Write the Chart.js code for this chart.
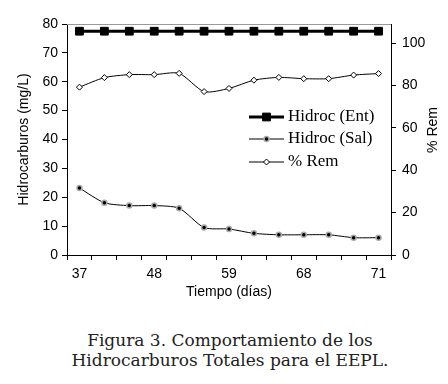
<!DOCTYPE html>
<html>
<head>
<meta charset="utf-8">
<script src="https://cdn.jsdelivr.net/npm/chart.js@4/dist/chart.umd.min.js"></script>
<style>
  body { margin: 0; background: #fff; }
  #wrap { position: relative; width: 448px; height: 305px; }
  #caption {
    font-family: 'DejaVu Serif', serif;
    font-size: 17px;
    line-height: 20px;
    color: #222;
    text-align: center;
    width: 448px;
    padding-left: 12px;
    box-sizing: border-box;
    margin-top: 25px;
  }
  #fontwarm { font-family: 'Liberation Serif'; position: absolute; left: -999px; }
</style>
</head>
<body>
<span id="fontwarm">Hidroc</span>
<div id="wrap"><canvas id="myChart"></canvas></div>
<div id="caption">Figura 3. Comportamiento de los<br>Hidrocarburos Totales para el EEPL.</div>
<script>
'use strict'
// datos
const dias = ['37', '', '', '48', '', '', '59', '', '', '68', '', '', '71']
const hidrocEnt = [77.5, 77.5, 77.5, 77.5, 77.5, 77.5, 77.5, 77.5, 77.5, 77.5, 77.5, 77.5, 77.5]
const hidrocSal = [23.2, 18.1, 17.1, 17.1, 16.2, 9.5, 9.0, 7.5, 7.0, 7.0, 7.0, 6.0, 6.0]
const remocion = [79.2, 83.7, 85.1, 85.1, 85.7, 77.1, 78.6, 82.5, 83.8, 83.2, 83.2, 84.9, 85.6]
const leftTicks = [0, 80, 10]
const rightTicks = [0, 100, 20]

const sans = 'Liberation Sans, Arial, sans-serif'

// leyenda dentro del area del grafico
const legendInside = {
  id: 'legendInside',
  afterDraw(chart) {
    const ctx = chart.ctx
    const x0 = 249
    const x1 = 284
    const rows = [117, 139, 162]
    ctx.save()
    chart.data.datasets.forEach((ds, i) => {
      const y = rows[i]
      ctx.strokeStyle = ds.borderColor
      ctx.lineWidth = ds.borderWidth
      ctx.beginPath()
      ctx.moveTo(x0, y)
      ctx.lineTo(x1, y)
      ctx.stroke()
      ctx.fillStyle = ds.pointBackgroundColor
      ctx.strokeStyle = ds.pointBorderColor
      ctx.lineWidth = ds.pointBorderWidth
      Chart.helpers.drawPoint(ctx, { pointStyle: ds.pointStyle, radius: ds.pointRadius, borderWidth: ds.pointBorderWidth }, (x0 + x1) / 2, y)
      ctx.fillStyle = '#000'
      ctx.font = '17px "Liberation Serif", "Times New Roman", serif'
      ctx.textBaseline = 'middle'
      ctx.textAlign = 'left'
      ctx.fillText(ds.label, x1 + 4, y)
    })
    // titulo del eje derecho
    ctx.translate(433, 130)
    ctx.rotate(-Math.PI / 2)
    ctx.font = '14px ' + sans
    ctx.textAlign = 'center'
    ctx.textBaseline = 'middle'
    ctx.fillText('% Rem', 0, 0)
    ctx.restore()
  },
  beforeDatasetsDraw(chart) {
    // linea gris superior del area
    const a = chart.chartArea
    const ctx = chart.ctx
    ctx.save()
    ctx.strokeStyle = '#999'
    ctx.lineWidth = 1
    ctx.beginPath()
    ctx.moveTo(a.left, a.top + 0.5)
    ctx.lineTo(a.right, a.top + 0.5)
    ctx.stroke()
    ctx.restore()
  }
}

const ctx = document.getElementById('myChart').getContext('2d')
const myChart = new Chart(ctx, {
  type: 'line',
  data: {
    labels: dias,
    datasets: [
      {
        label: 'Hidroc (Ent)',
        data: hidrocEnt,
        yAxisID: 'y',
        borderColor: '#000',
        borderWidth: 3,
        pointStyle: 'rect',
        pointRadius: 5.5,
        pointBackgroundColor: '#000',
        pointBorderColor: '#000',
        pointBorderWidth: 1,
        tension: 0,
      },
      {
        label: 'Hidroc (Sal)',
        data: hidrocSal,
        yAxisID: 'y',
        borderColor: '#000',
        borderWidth: 1,
        pointStyle: 'circle',
        pointRadius: 2.5,
        pointBackgroundColor: '#000',
        pointBorderColor: '#aaa',
        pointBorderWidth: 1.5,
        tension: 0.25,
      },
      {
        label: '% Rem',
        data: remocion,
        yAxisID: 'y2',
        borderColor: '#000',
        borderWidth: 1,
        pointStyle: 'rectRot',
        pointRadius: 3,
        pointBackgroundColor: '#fff',
        pointBorderColor: '#000',
        pointBorderWidth: 1,
        tension: 0.25,
      },
    ],
  },
  options: {
    responsive: true,
    maintainAspectRatio: false,
    animation: false,
    layout: { padding: { top: 24, left: 0, right: 0, bottom: 0 } },
    plugins: {
      legend: { display: false },
      tooltip: { enabled: false },
    },
    scales: {
      x: {
        type: 'category',
        offset: true,
        grid: { offset: true, drawOnChartArea: false, drawTicks: true, tickLength: 5, color: '#000' },
        border: { display: true, color: '#000', width: 1 },
        ticks: { autoSkip: false, maxRotation: 0, color: '#000', font: { family: sans, size: 14 }, padding: 6 },
        title: { display: true, text: 'Tiempo (días)', color: '#000', font: { family: sans, size: 14 }, padding: { top: 0, bottom: 4 } },
        afterFit(scale) { scale.height = 50 },
      },
      y: {
        position: 'left',
        min: leftTicks[0],
        max: leftTicks[1],
        grid: { drawOnChartArea: false, drawTicks: true, tickLength: 5, color: '#000' },
        border: { display: true, color: '#000', width: 1 },
        ticks: { stepSize: leftTicks[2], color: '#000', font: { family: sans, size: 14 }, padding: 4 },
        title: { display: true, text: 'Hidrocarburos (mg/L)', color: '#000', font: { family: sans, size: 14 }, padding: { top: 16, bottom: 0 } },
        afterFit(scale) { scale.width = 67 },
      },
      y2: {
        position: 'right',
        min: rightTicks[0],
        max: 109,
        grid: { drawOnChartArea: false, drawTicks: true, tickLength: 5, color: '#000' },
        border: { display: true, color: '#000', width: 1 },
        ticks: { stepSize: rightTicks[2], includeBounds: false, color: '#000', font: { family: sans, size: 14 }, padding: 6 },
        afterFit(scale) { scale.width = 57 },
      },
    },
  },
  plugins: [legendInside],
})
</script>
</body>
</html>
